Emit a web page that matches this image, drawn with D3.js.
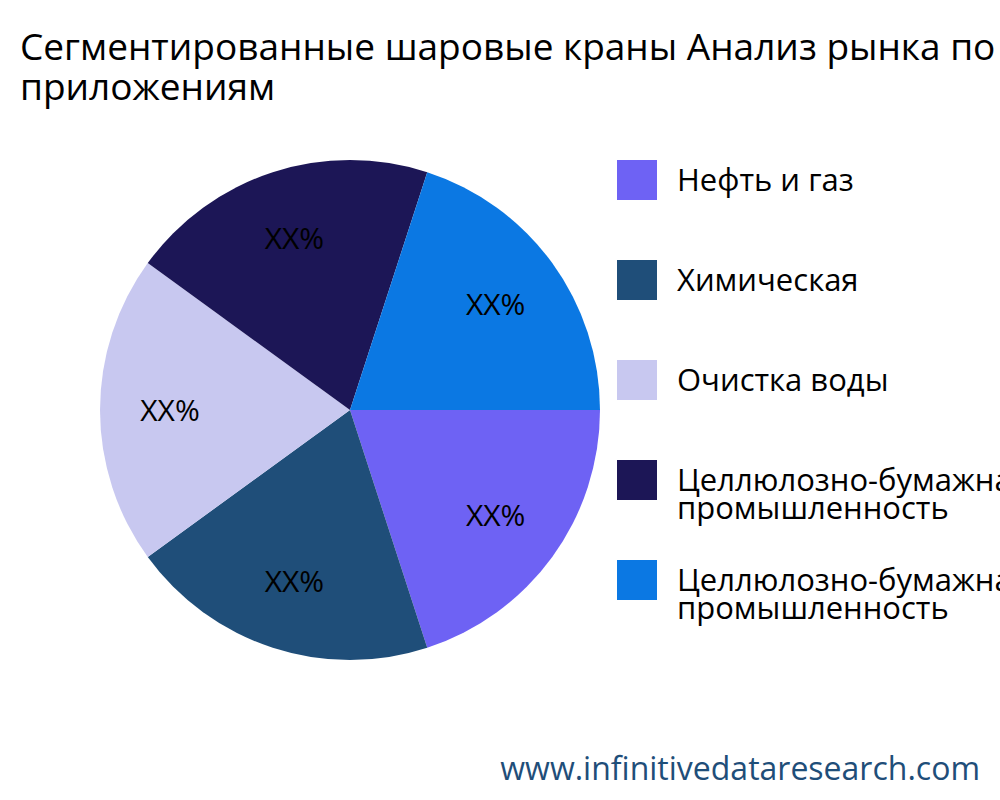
<!DOCTYPE html>
<html lang="ru">
  <head>
    <meta charset="UTF-8" />
    <script src="https://d3js.org/d3.v7.min.js"></script>
    <style>
      body { margin: 0; }
      text { font-family: "Open Sans", "Noto Sans", sans-serif; }
    </style>
  </head>
  <body>
    <svg id="pie" width="1000" height="800"></svg>
    <script>
      const categories = [
        "Нефть и газ",
        "Химическая",
        "Очистка воды",
        "Целлюлозно-бумажная промышленность",
        "Целлюлозно-бумажная промышленность "
      ];
      const legendLines = [
        ["Нефть и газ"],
        ["Химическая"],
        ["Очистка воды"],
        ["Целлюлозно-бумажная", "промышленность"],
        ["Целлюлозно-бумажная", "промышленность"]
      ];
      const values = [20, 20, 20, 20, 20];
      const labels = ["XX%", "XX%", "XX%", "XX%", "XX%"];
      const colors = ["#6e62f4", "#1f4e79", "#c8c8f0", "#1c1656", "#0b78e3"];

      const svg = d3.select("#pie");
      const cx = 350, cy = 410, r = 250;

      svg.append("text").attr("x", 20).attr("y", 60)
        .style("font-size", "37px").text("Сегментированные шаровые краны Анализ рынка по");
      svg.append("text").attr("x", 20).attr("y", 100)
        .style("font-size", "37px").text("приложениям");

      const data = categories.map((c, i) => ({ c, v: values[i], i }));
      const pie = d3.pie().value(d => d.v).sort(null)
        .startAngle(Math.PI / 2).endAngle(Math.PI / 2 + 2 * Math.PI);
      const arc = d3.arc().innerRadius(0).outerRadius(r);
      const labelArc = d3.arc().innerRadius(180).outerRadius(180);

      const g = svg.append("g").attr("transform", `translate(${cx},${cy})`);
      const arcs = pie(data);
      g.selectAll("path").data(arcs).enter().append("path")
        .attr("d", arc).attr("fill", d => colors[d.data.i]);
      g.selectAll("text.lbl").data(arcs).enter().append("text")
        .attr("class", "lbl")
        .attr("transform", d => `translate(${labelArc.centroid(d)})`)
        .attr("text-anchor", "middle").attr("dy", "0.35em")
        .style("font-size", "30px")
        .text(d => labels[d.data.i]);

      const legend = svg.append("g").attr("transform", "translate(617,160)");
      legendLines.forEach((lines, i) => {
        legend.append("rect").attr("x", 0).attr("y", i * 100)
          .attr("width", 40).attr("height", 40).attr("fill", colors[i]);
        lines.forEach((t, j) => {
          legend.append("text").attr("x", 60)
            .attr("y", i * 100 + 31 + j * 28)
            .style("font-size", "31px").text(t);
        });
      });

      svg.append("text").attr("x", 980).attr("y", 780)
        .attr("text-anchor", "end").attr("fill", "#1f4e79")
        .style("font-size", "32px").text("www.infinitivedataresearch.com");
    </script>
  </body>
</html>
